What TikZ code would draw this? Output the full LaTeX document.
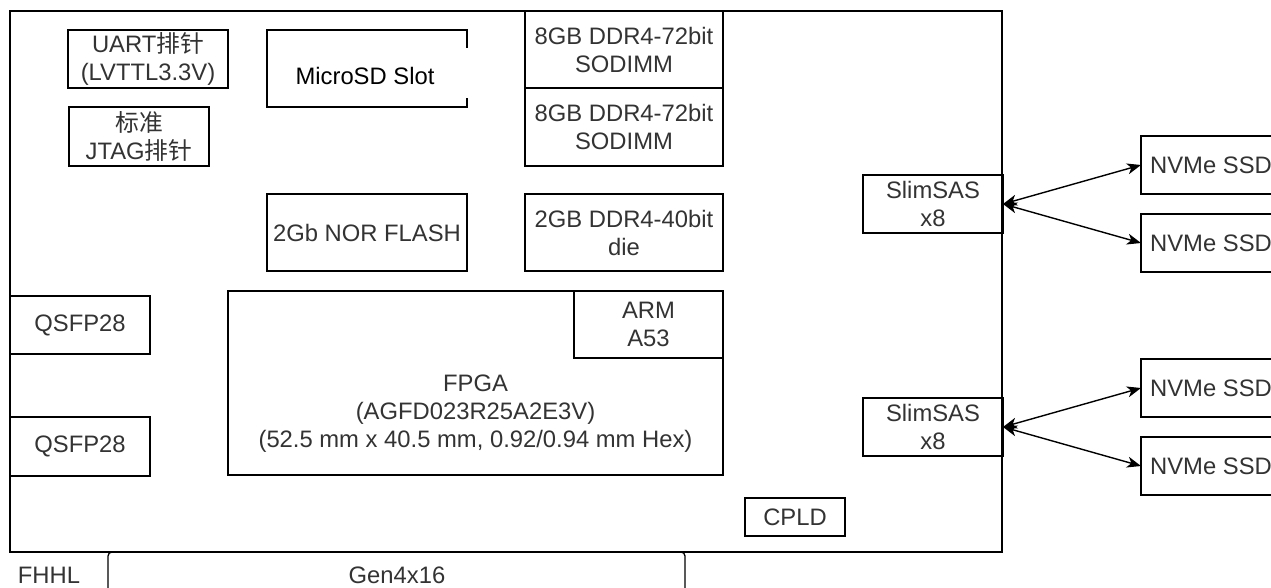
\documentclass[tikz,border=0pt]{standalone}
\usepackage{fontspec}
\setmainfont{Liberation Sans}
\newfontfamily\cjk{Noto Sans CJK SC}
\usetikzlibrary{arrows.meta}
\definecolor{txtc}{HTML}{333333}
\tikzset{
  box/.style={draw=black, line width=1.3pt, anchor=north west, inner sep=0pt, outer sep=0pt,
    align=center, text=txtc, font=\fontsize{23.8}{28}\selectfont},
  lbl/.style={inner sep=0pt, align=center, text=txtc, font=\fontsize{23.8}{28}\selectfont},
  link/.style={line width=1.4pt, {Stealth[length=14pt,width=11pt,inset=4pt]}-{Stealth[length=14pt,width=11pt,inset=4pt]}}
}
\begin{document}
\begin{tikzpicture}[x=1pt,y=-1pt]
\useasboundingbox (0,0) rectangle (1271,588);
\clip (0,0) rectangle (1271,588);
\fill[white] (0,0) rectangle (1271,588);
% board
\node[box, minimum width=992pt, minimum height=541pt] (board) at (10,11) {};
% top-left headers
\node[box, minimum width=160pt, minimum height=58pt] (uart) at (68,30) {UART{\cjk 排针}\\(LVTTL3.3V)};
\node[box, minimum width=140pt, minimum height=59pt] (jtag) at (69,107) {{\cjk 标准}\\JTAG{\cjk 排针}};
% MicroSD (right edge broken as in the reference)
\node[anchor=north west, inner sep=0pt, outer sep=0pt, minimum width=200pt, minimum height=77pt] (microsd) at (267,30) {};
\draw[line width=1.3pt] ([yshift=-18pt]microsd.north east) -- (microsd.north east) -- (microsd.north west)
  -- (microsd.south west) -- (microsd.south east) -- ([yshift=9pt]microsd.south east);
\node[lbl, text=black] (microsdtxt) at (365,76) {MicroSD Slot};
% memories
\node[box, minimum width=198pt, minimum height=77pt] (ddr1) at (525,11) {8GB DDR4-72bit\\SODIMM};
\node[box, minimum width=198pt, minimum height=78pt] (ddr2) at (525,88) {8GB DDR4-72bit\\SODIMM};
\node[box, minimum width=198pt, minimum height=77pt] (ddr3) at (525,194) {2GB DDR4-40bit\\die};
\node[box, minimum width=200pt, minimum height=77pt] (nor) at (267,194) {2Gb NOR FLASH};
% FPGA
\node[box, minimum width=495pt, minimum height=184pt] (fpga) at (228,291) {};
\node[lbl] (fpgatxt) at (475.5,414) {FPGA\\(AGFD023R25A2E3V)\\(52.5 mm x 40.5 mm, 0.92/0.94 mm Hex)};
\node[box, fill=white, minimum width=149pt, minimum height=67pt] (arm) at (574,291) {ARM\\A53};
% QSFP
\node[box, minimum width=140pt, minimum height=58pt] (qsfp1) at (10,296) {QSFP28};
\node[box, minimum width=140pt, minimum height=59pt] (qsfp2) at (10,417) {QSFP28};
% SlimSAS
\node[box, minimum width=140pt, minimum height=58pt] (sas1) at (863,175) {SlimSAS\\x8};
\node[box, minimum width=140pt, minimum height=58pt] (sas2) at (863,398) {SlimSAS\\x8};
% SSDs
\node[box, minimum width=140pt, minimum height=58pt] (ssd1) at (1141,136) {NVMe SSD};
\node[box, minimum width=140pt, minimum height=58pt] (ssd2) at (1141,214) {NVMe SSD};
\node[box, minimum width=140pt, minimum height=58pt] (ssd3) at (1141,359) {NVMe SSD};
\node[box, minimum width=140pt, minimum height=58pt] (ssd4) at (1141,437) {NVMe SSD};
\draw[link] (sas1.east) -- (ssd1.west);
\draw[link] (sas1.east) -- (ssd2.west);
\draw[link] (sas2.east) -- (ssd3.west);
\draw[link] (sas2.east) -- (ssd4.west);
% CPLD
\node[box, minimum width=100pt, minimum height=38pt] (cpld) at (745,498) {CPLD};
% edge connector
\coordinate (gl) at (108,600);
\coordinate (gr) at (685,600);
\draw[line width=1.3pt, rounded corners=4pt] (gl) -- (108,552) -- (685,552) -- (gr);
\node[lbl] (gen4) at (397,575) {Gen4x16};
\node[lbl] (fhhl) at (49,575) {FHHL};
\end{tikzpicture}
\end{document}
